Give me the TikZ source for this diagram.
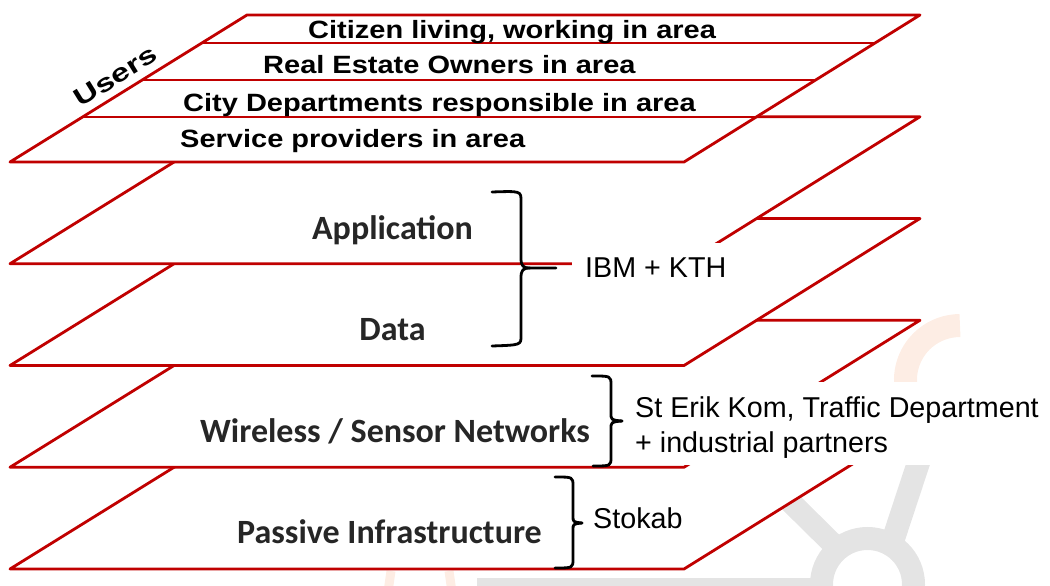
\documentclass[tikz,border=0pt]{standalone}
\usepackage{fontspec}
\newfontfamily\arialr{Liberation Sans}
\newfontfamily\arialbx[FakeStretch=1.16]{Liberation Sans}
\newfontfamily\arialusers[FakeStretch=1.33]{Liberation Sans}
\newfontfamily\calib{Carlito}
\definecolor{lred}{RGB}{192,0,0}
\definecolor{wmgray}{RGB}{228,228,228}
\definecolor{wmorange}{RGB}{253,237,228}
\definecolor{lblgray}{RGB}{38,38,38}
\tikzset{
  layer/.style={draw=lred, fill=white, line width=2.8pt, line join=round},
  sepline/.style={draw=lred, line width=1.3pt},
  toptext/.style={font=\arialbx\bfseries\fontsize{25}{30}\selectfont, anchor=base west, inner sep=0pt},
  userstext/.style={font=\arialusers\bfseries\fontsize{25}{30}\selectfont, anchor=base west, inner sep=0pt},
  lbl/.style={font=\calib\bfseries\fontsize{34}{40}\selectfont, text=lblgray, anchor=base, inner sep=0pt},
  note/.style={font=\arialr\fontsize{28.7}{35}\selectfont, anchor=base west, inner sep=0pt},
  bracepath/.style={draw=black, line width=2.8pt, line cap=round, line join=round},
  wmark/.style={draw=wmgray, line cap=butt}
}
\begin{document}
\begin{tikzpicture}[x=1pt,y=-1pt]
\useasboundingbox (0,0) rectangle (1050,586);
% faint watermark
\fill[wmgray] (477,578) rectangle (812,586);
\draw[wmark, line width=23pt] (867.5,584.5) circle (46);
\draw[wmark, line width=22pt] (760,472) -- (835,546);
\draw[wmark, line width=23pt] (893,540) -- (922,452);
\draw[draw=wmorange, line width=23pt] (906.3,389.5) arc[start angle=170, end angle=270, radius=54.5];
\draw[draw=wmorange, line width=9pt] (388,592) -- (391,571);
\draw[draw=wmorange, line width=9pt] (452,592) -- (449,571);
% layers, bottom to top
\foreach \b in {569,467.25,365.5,263.75,162}{
  \draw[layer] (10,\b) -- (684,\b) -- (920,\b-147) -- (247,\b-147) -- cycle;
}
% separators in the users layer
\draw[sepline] (201.9,43) -- (875,43);
\draw[sepline] (142.2,80) -- (815.6,80);
\draw[sepline] (82.6,117) -- (756.2,117);
% users layer texts
\node[toptext] (citizen) at (308,39) {Citizen living, working in area};
\node[toptext] (owners) at (263,74) {Real Estate Owners in area};
\node[toptext] (citydep) at (183,111) {City Departments responsible in area};
\node[toptext] (service) at (180,147) {Service providers in area};
\node[userstext, rotate=31.8] (users) at (80.5,108) {Users};
% layer labels
\node[lbl] (app) at (392.5,239) {Application};
\node[lbl] (data) at (392.5,340) {Data};
\node[lbl] (wsn) at (395,442) {Wireless / Sensor Networks};
\node[lbl] (passive) at (389.5,543) {Passive Infrastructure};
% braces
\draw[bracepath] (492,192) .. controls (521,191) .. (521,201) -- (521,258) .. controls (521,266) and (523,268) .. (530,268) -- (556,268);
\draw[bracepath] (530,268) .. controls (523,268) and (521,270) .. (521,278) -- (521,336) .. controls (521,345) .. (492,346);
\draw[bracepath] (592,376) .. controls (611,376) .. (611,385) -- (611,413) .. controls (611,420) .. (622,421);
\draw[bracepath] (622,421) .. controls (611,422) .. (611,429) -- (611,457) .. controls (611,466) .. (593,466);
\draw[bracepath] (555,477) .. controls (573,477) .. (573,486) -- (573,516) .. controls (573,522) .. (582,523);
\draw[bracepath] (582,523) .. controls (573,524) .. (573,530) -- (573,559) .. controls (573,568) .. (555,568);
% white backgrounds of the notes
\fill[white] (572,243) rectangle (740,293);
\fill[white] (625,382) rectangle (1050,465);
% notes
\node[note] (ibm) at (585,277) {IBM + KTH};
\node[note] (sterik) at (635,417) {St Erik Kom, Traffic Department};
\node[note] (partners) at (635,452) {+ industrial partners};
\node[note] (stokab) at (593,528) {Stokab};
\end{tikzpicture}
\end{document}
